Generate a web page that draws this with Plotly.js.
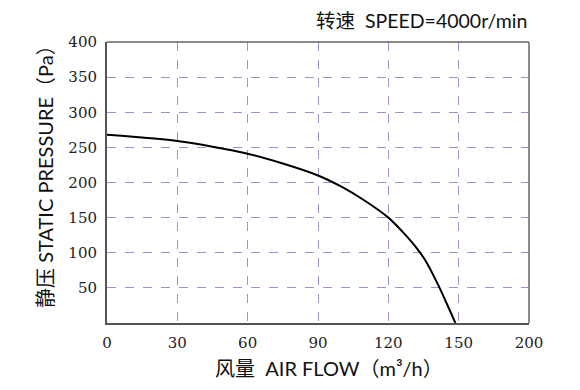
<!DOCTYPE html>
<html>
<head>
<meta charset="utf-8">
<script src="https://cdn.plot.ly/plotly-3.0.1.min.js"></script>
<style>html,body{margin:0;padding:0;background:#fff;}#chart{width:580px;height:390px;}</style>
</head>
<body>
<div id="chart"></div>
<script>
// Data
const airFlow = [0, 15, 30, 45, 60, 75, 90, 100, 110, 120, 126, 132, 136, 141, 145, 148.6];
const staticPressure = [268, 264, 259, 251, 241, 227, 210, 194, 174, 150, 130, 107, 88, 56, 27, 0];
const xTickVals = [0, 30, 60, 90, 120, 150, 180];
const xTickText = ["0", "30", "60", "90", "120", "150", "200"];
const yTickVals = [50, 100, 150, 200, 250, 300, 350, 400];
const titleText = "转速  SPEED=4000r/min";
const xTitleText = "风量  AIR FLOW（m³/h）";
const yTitleText = "静压 STATIC PRESSURE（Pa）";

const sansFont = 'Lato, "Noto Sans CJK SC", sans-serif';
const serifFont = '"DejaVu Serif", "Liberation Serif", serif';
const gridColor = '#9696cf';

const trace = {
  x: airFlow,
  y: staticPressure,
  type: 'scatter',
  mode: 'lines',
  line: {color: '#000000', width: 2, shape: 'spline', smoothing: 1},
  hoverinfo: 'skip'
};

const layout = {
  width: 580,
  height: 390,
  margin: {l: 107, r: 51, t: 42, b: 67},
  paper_bgcolor: '#ffffff',
  plot_bgcolor: '#ffffff',
  showlegend: false,
  xaxis: {
    range: [0, 180],
    tickvals: xTickVals,
    ticktext: xTickText,
    showgrid: true,
    gridcolor: gridColor,
    gridwidth: 1,
    griddash: 'dash',
    zeroline: false,
    showline: true,
    linecolor: '#555555',
    linewidth: 2,
    ticks: 'outside',
    ticklen: 5,
    tickcolor: 'rgba(0,0,0,0)',
    tickfont: {family: serifFont, size: 15, color: '#222222'},
    fixedrange: true
  },
  yaxis: {
    range: [0, 400],
    tickvals: yTickVals,
    showgrid: true,
    gridcolor: gridColor,
    gridwidth: 1,
    griddash: 'dash',
    zeroline: false,
    showline: true,
    linecolor: '#555555',
    linewidth: 2,
    ticks: 'outside',
    ticklen: 5,
    tickcolor: 'rgba(0,0,0,0)',
    tickfont: {family: serifFont, size: 15, color: '#222222'},
    fixedrange: true
  },
  shapes: [
    {type: 'line', xref: 'paper', yref: 'paper', x0: 0, x1: 1, y0: 1, y1: 1, line: {color: '#666666', width: 1.5}},
    {type: 'line', xref: 'paper', yref: 'paper', x0: 1, x1: 1, y0: 0, y1: 1, line: {color: '#666666', width: 1.5}}
  ],
  annotations: [
    {text: titleText, xref: 'paper', yref: 'paper', x: 1.0, y: 1.078, xanchor: 'right', yanchor: 'middle',
     showarrow: false, font: {family: sansFont, size: 19.5, color: '#111111'}},
    {text: xTitleText, xref: 'paper', yref: 'paper', x: 0.527, y: -0.16, xanchor: 'center', yanchor: 'middle',
     showarrow: false, font: {family: sansFont, size: 20, color: '#111111'}},
    {text: yTitleText, xref: 'paper', yref: 'paper', x: -0.147, y: 0.541, xanchor: 'center', yanchor: 'middle',
     textangle: -90, showarrow: false, font: {family: sansFont, size: 20, color: '#111111'}}
  ]
};

Plotly.newPlot('chart', [trace], layout, {staticPlot: true, displayModeBar: false});
</script>
</body>
</html>
